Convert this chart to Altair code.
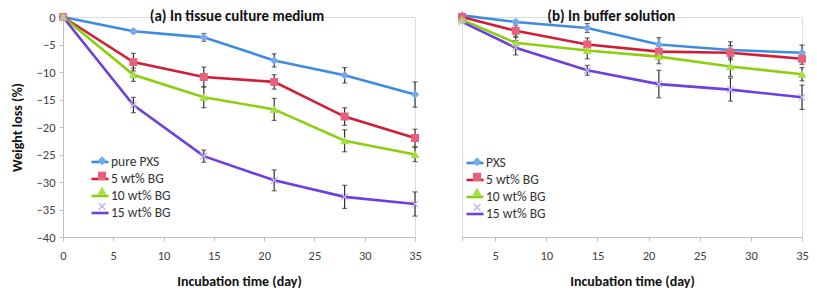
import altair as alt
import pandas as pd

# ---- data ----
days_a = [0, 7, 14, 21, 28, 35]
days_b = [1.75, 7, 14, 21, 28, 35]
series_a = ["pure PXS", "5 wt% BG", "10 wt% BG", "15 wt% BG"]
series_b = ["PXS", "5 wt% BG", "10 wt% BG", "15 wt% BG"]

a_pxs = [0, -2.6, -3.7, -7.9, -10.6, -14.1]
a_5 = [0, -8.2, -10.9, -11.8, -18.1, -22.0]
a_10 = [0, -10.5, -14.6, -16.8, -22.5, -25.0]
a_15 = [0, -16.0, -25.3, -29.7, -32.7, -34.0]
a_pxs_err = [0, 0.3, 0.7, 1.2, 1.4, 2.3]
a_5_err = [0, 1.6, 1.8, 1.3, 1.6, 1.6]
a_10_err = [0, 1.2, 1.9, 2.0, 2.0, 1.3]
a_15_err = [0, 1.4, 1.1, 1.9, 2.1, 2.2]

b_pxs = [0.3, -0.9, -2.0, -5.0, -6.0, -6.5]
b_5 = [0, -2.5, -5.0, -6.3, -6.5, -7.6]
b_10 = [-0.5, -4.7, -6.1, -7.2, -9.0, -10.4]
b_15 = [-0.9, -5.6, -9.7, -12.2, -13.2, -14.6]
b_pxs_err = [0, 0.3, 0.8, 1.25, 1.5, 1.4]
b_5_err = [0, 1.0, 1.2, 1.0, 1.3, 1.0]
b_10_err = [0, 1.0, 1.5, 1.3, 1.8, 1.2]
b_15_err = [0, 1.3, 0.9, 2.5, 2.1, 2.2]

x_ticks_a = [0, 5, 10, 15, 20, 25, 30, 35]
x_ticks_b = [1.75, 5, 10, 15, 20, 25, 30, 35]
y_ticks = [0, -5, -10, -15, -20, -25, -30, -35, -40]

titles = ["(a) In tissue culture medium", "(b) In buffer solution"]

line_colors = ["#3d8ce0", "#cf1f38", "#8ccf10", "#6d3fdb"]
fill_colors = ["#74aaea", "#e8607c", "#a6df45", "#c4b6f2"]
shapes = ["diamond", "square", "triangle-up", "M-1,-1L1,1M1,-1L-1,1"]

FONT = "Carlito, 'Open Sans', sans-serif"
Y_TITLE = "Weight loss (%)"
X_TITLE = "Incubation time (day)"


def build(days, names, vals, errs):
    rows = []
    for name, v, e in zip(names, vals, errs):
        for d, y, er in zip(days, v, e):
            rows.append({"day": d, "loss": y, "lo": y - er, "hi": y + er,
                         "series": name, "series2": name, "err": er})
    return pd.DataFrame(rows)


df_a = build(days_a, series_a, [a_pxs, a_5, a_10, a_15],
             [a_pxs_err, a_5_err, a_10_err, a_15_err])
df_b = build(days_b, series_b, [b_pxs, b_5, b_10, b_15],
             [b_pxs_err, b_5_err, b_10_err, b_15_err])


def panel(df, names, title, title_x, x_dom, x_ticks, show_y, leg_x, leg_y, w):
    xs = alt.Scale(domain=x_dom, nice=False, zero=False)
    ys = alt.Scale(domain=[-40, 0], nice=False)
    x_axis = alt.Axis(values=x_ticks, title=X_TITLE,
                      labelExpr="datum.value == 1.75 ? '' : datum.label",
                      grid=False, domainColor="#bfbfbf", tickColor="#bfbfbf",
                      tickSize=4, labelPadding=8, labelColor="#404040",
                      labelFontSize=12.5, labelFont=FONT, titleFont=FONT,
                      titleFontSize=14, titleFontWeight="bold", titleColor="#111",
                      titlePadding=13, labelFlush=False, labelOverlap=False)
    if show_y:
        y_axis = alt.Axis(values=y_ticks, title=Y_TITLE, grid=False,
                          domainColor="#bfbfbf", tickColor="#bfbfbf", tickSize=4,
                          labelPadding=4, labelColor="#404040", labelFontSize=12.5,
                          labelFont=FONT, titleFont=FONT, titleFontSize=14,
                          titleFontWeight="bold", titleColor="#111",
                          titlePadding=12, labelOverlap=False)
        yt = Y_TITLE
    else:
        y_axis = None
        yt = None

    base = alt.Chart(df).encode(
        x=alt.X("day:Q", scale=xs, axis=x_axis, title=X_TITLE),
    )
    lines = base.mark_line(strokeWidth=2.6).encode(
        y=alt.Y("loss:Q", scale=ys, axis=y_axis, title=yt),
        color=alt.Color("series:N", sort=names,
                        scale=alt.Scale(domain=names, range=line_colors),
                        legend=alt.Legend(orient="none", legendX=leg_x,
                                          legendY=leg_y - 2,
                                          title=None, symbolType="stroke",
                                          symbolSize=290, symbolStrokeWidth=2.6,
                                          labelFont=FONT, labelFontSize=13.5,
                                          labelColor="#333", rowPadding=-0.8,
                                          labelOffset=1)),
    )
    bars = base.transform_filter("datum.err > 0").mark_errorbar(
        ticks=alt.TickConfig(size=5, thickness=1.2), color="#333", thickness=1.2
    ).encode(
        y=alt.Y("lo:Q", scale=ys, axis=y_axis, title=yt),
        y2="hi:Q",
    )
    pts = base.mark_point(filled=True, size=45, strokeWidth=1.2, opacity=1).encode(
        y=alt.Y("loss:Q", scale=ys, axis=y_axis, title=yt),
        shape=alt.Shape("series2:N", sort=names,
                        scale=alt.Scale(domain=names, range=shapes)),
        fill=alt.Fill("series2:N", sort=names,
                      scale=alt.Scale(domain=names, range=fill_colors)),
        stroke=alt.Stroke("series2:N", sort=names,
                          scale=alt.Scale(domain=names, range=fill_colors),
                          legend=alt.Legend(orient="none", legendX=leg_x + 5.3,
                                            legendY=leg_y, title=None,
                                            symbolSize=45, labelFont=FONT,
                                            labelFontSize=13.5, labelExpr="' '",
                                            rowPadding=0.2, labelOffset=1)),
    )
    ttl = alt.Chart(pd.DataFrame({"t": [title]})).mark_text(
        font=FONT, fontSize=15, fontWeight="bold", color="#111",
        baseline="middle", align="center", dy=-1
    ).encode(
        x=alt.XDatum(title_x, scale=xs, axis=x_axis, title=X_TITLE),
        y=alt.YDatum(0, scale=ys, axis=y_axis, title=yt),
        text="t:N",
    )
    return alt.layer(lines, bars, pts, ttl).properties(
        width=w, height=220,
    ).resolve_scale(color="independent", shape="independent",
                    fill="independent", stroke="independent")


left = panel(df_a, series_a, titles[0], 17.3, [0, 35],
             x_ticks_a, True, 27, 137, 352)
right = panel(df_b, series_b, titles[1], 16.35, [1.75, 35],
              x_ticks_b, False, 3, 138, 340)

chart = alt.hconcat(left, right, spacing=33).resolve_scale(
    color="independent", shape="independent", fill="independent",
    stroke="independent", x="independent", y="independent"
).properties(padding={"left": 1, "top": 0, "right": 0, "bottom": 0}
).configure_view(stroke=None).configure(background="white")

chart.save("out.html", embed_options={"renderer": "svg", "actions": False})
